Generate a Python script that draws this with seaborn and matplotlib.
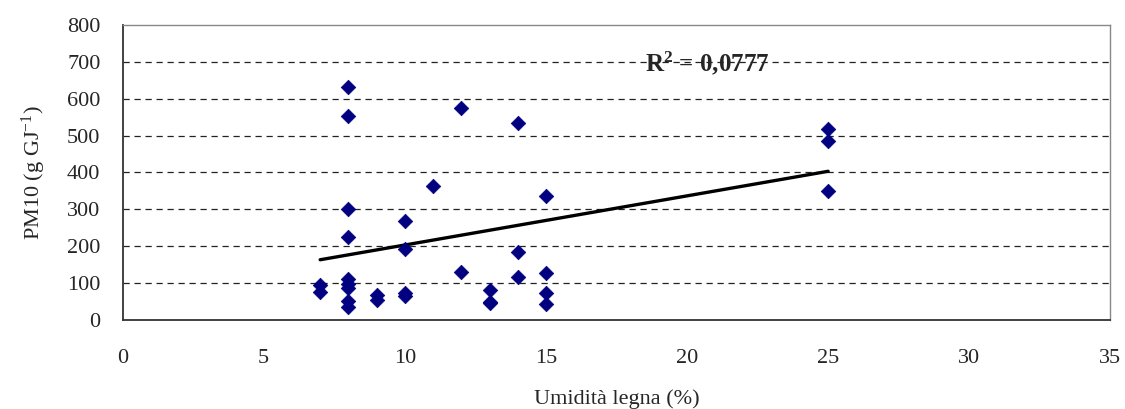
import numpy as np
import pandas as pd
import matplotlib
matplotlib.use("Agg")
import matplotlib.pyplot as plt
import seaborn as sns

# Data
umidita = [7, 7,
           8, 8, 8, 8, 8, 8, 8, 8, 8,
           9, 9,
           10, 10, 10, 10,
           11,
           12, 12,
           13, 13, 13,
           14, 14, 14,
           15, 15, 15, 15,
           25, 25, 25]
pm10 = [95, 76,
        632, 552, 302, 225, 110, 98, 86, 50, 36,
        68, 54,
        268, 191, 72, 64,
        364,
        576, 130,
        82, 48, 45,
        533, 183, 117,
        336, 126, 73, 44,
        518, 485, 350]
# linear trend line as drawn in the chart (end points)
trend_x = [7, 25]
trend_y = [163, 403]
r2_label = "0,0777"
x_ticks = [0, 5, 10, 15, 20, 25, 30, 35]
y_ticks = [0, 100, 200, 300, 400, 500, 600, 700, 800]

df = pd.DataFrame({"x": umidita, "y": pm10})
trend = pd.DataFrame({"x": trend_x, "y": trend_y})

sns.set_style("white")
plt.rcParams["font.family"] = ["Liberation Serif", "DejaVu Serif"]
plt.rcParams["mathtext.fontset"] = "custom"
plt.rcParams["mathtext.rm"] = "Liberation Serif"
plt.rcParams["mathtext.bf"] = "Liberation Serif:bold"
plt.rcParams["mathtext.it"] = "Liberation Serif:italic"

fig = plt.figure(figsize=(11.25, 4.09), dpi=100)
ax = fig.add_axes([0.109, 0.218, 0.878, 0.721])

# grid
for yv in y_ticks[1:-1]:
    ax.axhline(yv, color="#222222", lw=0.9, ls=(0, (5, 3.8)), zorder=0)

sns.scatterplot(data=df, x="x", y="y", marker="D", s=55, color="#000080",
                edgecolor="#000080", linewidth=0.5, ax=ax, zorder=3)

sns.lineplot(data=trend, x="x", y="y", color="black", lw=2.4, ax=ax, zorder=2)

ax.set_xlim(0, 35)
ax.set_ylim(0, 800)
ax.set_xticks(x_ticks)
ax.set_yticks(y_ticks)
ax.tick_params(axis="both", labelsize=16, length=7, width=1, color="#333333",
               direction="out", pad=9)
ax.tick_params(axis="x", pad=14)
ax.set_xlabel("Umidità legna (%)", fontsize=16, labelpad=15)
ax.set_ylabel("PM10 (g GJ$^{-1}$)", fontsize=16, labelpad=14)

for side in ["left", "bottom"]:
    ax.spines[side].set_color("#333333")
    ax.spines[side].set_linewidth(1.3)
for side in ["top", "right"]:
    ax.spines[side].set_color("#888888")
    ax.spines[side].set_linewidth(1.0)

ax.text(20.7, 695, r"R$^{\mathbf{2}}$ = " + r2_label, fontsize=18, fontweight="bold",
        ha="center", va="center", zorder=4)

fig.savefig("out.png", dpi=100)
